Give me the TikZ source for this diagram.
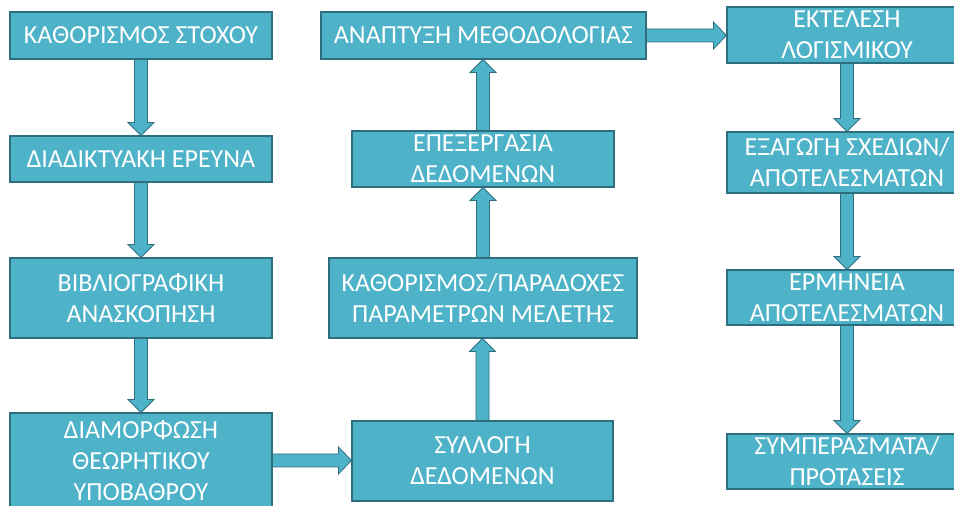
\documentclass[tikz,border=0pt]{standalone}
\usepackage{fontspec}
\setmainfont{Carlito}
\usetikzlibrary{calc}
\definecolor{boxfill}{HTML}{4EB3C9}
\definecolor{boxline}{HTML}{2F6E7E}
% block arrows between boxes
\newcommand{\flowdown}[2]{%
	\filldraw[flowarrow] let \p1=(#1.south), \p2=(#2.north) in
		(\x1-6.5pt,\y1) -- (\x1+6.5pt,\y1) -- (\x1+6.5pt,\y2+13pt) -- (\x1+13pt,\y2+13pt)
		-- (\x1,\y2) -- (\x1-13pt,\y2+13pt) -- (\x1-6.5pt,\y2+13pt) -- cycle;}
\newcommand{\flowup}[2]{%
	\filldraw[flowarrow] let \p1=(#1.north), \p2=(#2.south) in
		(\x1-6.5pt,\y1) -- (\x1+6.5pt,\y1) -- (\x1+6.5pt,\y2-13pt) -- (\x1+13pt,\y2-13pt)
		-- (\x1,\y2) -- (\x1-13pt,\y2-13pt) -- (\x1-6.5pt,\y2-13pt) -- cycle;}
\newcommand{\flowright}[2]{%
	\filldraw[flowarrow] let \p1=(#1.east), \p2=(#2.west) in
		(\x1,\y1+6.5pt) -- (\x2-13pt,\y1+6.5pt) -- (\x2-13pt,\y1+13.5pt) -- (\x2,\y1)
		-- (\x2-13pt,\y1-13.5pt) -- (\x2-13pt,\y1-6.5pt) -- (\x1,\y1-6.5pt) -- cycle;}
\begin{document}
\begin{tikzpicture}[x=1pt,y=1pt,
		stepbox/.style={draw=boxline, fill=boxfill, line width=1.1pt, text=white, inner sep=0pt,
			align=center, font=\fontsize{26}{31}\selectfont},
		flowarrow/.style={draw=boxline, fill=boxfill, line width=0.8pt, line join=miter}]
	\useasboundingbox (0,0) rectangle (954,506);
	% left column
	\node[stepbox, minimum width=262, minimum height=47] (goal) at (141,470.5) {ΚΑΘΟΡΙΣΜΟΣ ΣΤΟΧΟΥ};
	\node[stepbox, minimum width=262, minimum height=46] (web) at (141,347) {ΔΙΑΔΙΚΤΥΑΚΗ ΕΡΕΥΝΑ};
	\node[stepbox, minimum width=262, minimum height=80] (review) at (141,208) {ΒΙΒΛΙΟΓΡΑΦΙΚΗ\\ΑΝΑΣΚΟΠΗΣΗ};
	\node[stepbox, minimum width=262, minimum height=95] (theory) at (141,45.5) {ΔΙΑΜΟΡΦΩΣΗ\\ΘΕΩΡΗΤΙΚΟΥ\\ΥΠΟΒΑΘΡΟΥ};
	% middle column
	\node[stepbox, minimum width=261, minimum height=80] (collect) at (482.5,45) {ΣΥΛΛΟΓΗ\\ΔΕΔΟΜΕΝΩΝ};
	\node[stepbox, minimum width=308, minimum height=80] (params) at (483,208) {ΚΑΘΟΡΙΣΜΟΣ/ΠΑΡΑΔΟΧΕΣ\\ΠΑΡΑΜΕΤΡΩΝ ΜΕΛΕΤΗΣ};
	\node[stepbox, minimum width=262, minimum height=56] (process) at (483,347) {ΕΠΕΞΕΡΓΑΣΙΑ\\ΔΕΔΟΜΕΝΩΝ};
	\node[stepbox, minimum width=325, minimum height=47] (method) at (483.5,470.5) {ΑΝΑΠΤΥΞΗ ΜΕΘΟΔΟΛΟΓΙΑΣ};
	% right column
	\node[stepbox, minimum width=240, minimum height=56] (run) at (847,471) {ΕΚΤΕΛΕΣΗ\\ΛΟΓΙΣΜΙΚΟΥ};
	\node[stepbox, minimum width=240, minimum height=61] (export) at (847,343.5) {ΕΞΑΓΩΓΗ ΣΧΕΔΙΩΝ/\\ΑΠΟΤΕΛΕΣΜΑΤΩΝ};
	\node[stepbox, minimum width=240, minimum height=55] (interp) at (847,208.5) {ΕΡΜΗΝΕΙΑ\\ΑΠΟΤΕΛΕΣΜΑΤΩΝ};
	\node[stepbox, minimum width=240, minimum height=55] (concl) at (847,44.5) {ΣΥΜΠΕΡΑΣΜΑΤΑ/\\ΠΡΟΤΑΣΕΙΣ};
	% arrows
	\flowdown{goal}{web}
	\flowdown{web}{review}
	\flowdown{review}{theory}
	\flowright{theory}{collect}
	\flowup{collect}{params}
	\flowup{params}{process}
	\flowup{process}{method}
	\flowright{method}{run}
	\flowdown{run}{export}
	\flowdown{export}{interp}
	\flowdown{interp}{concl}
\end{tikzpicture}
\end{document}
